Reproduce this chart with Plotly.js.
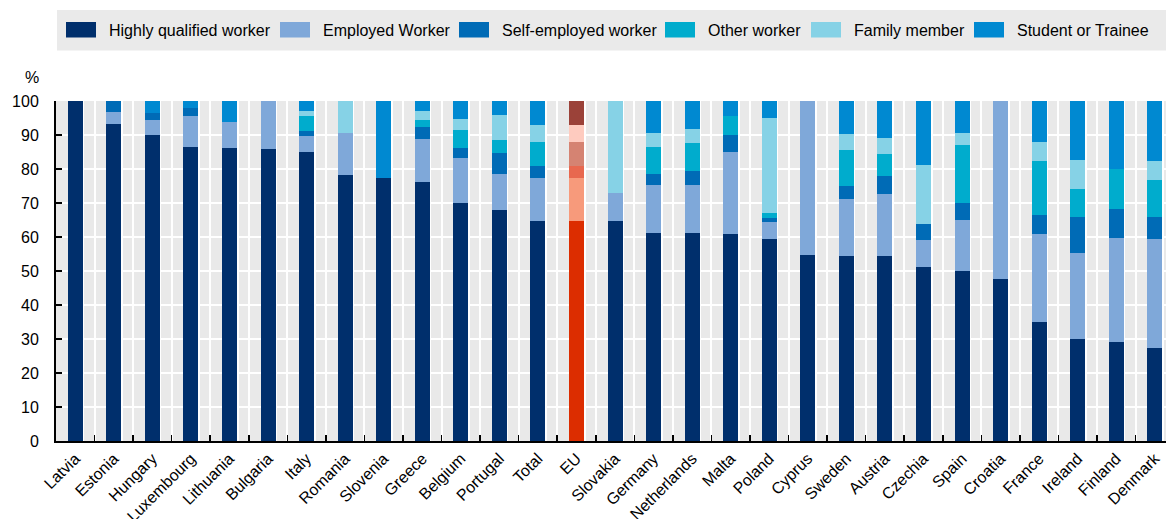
<!DOCTYPE html>
<html>
<head>
<meta charset="utf-8">
<script src="https://cdn.plot.ly/plotly-3.0.1.min.js"></script>
<style>
html,body{margin:0;padding:0;background:#fff;}
#chart{width:1166px;height:519px;}
</style>
</head>
<body>
<div id="chart"></div>
<script>
// ---- data ----
var categories = ["Latvia","Estonia","Hungary","Luxembourg","Lithuania","Bulgaria","Italy","Romania","Slovenia","Greece","Belgium","Portugal","Total","EU","Slovakia","Germany","Netherlands","Malta","Poland","Cyprus","Sweden","Austria","Czechia","Spain","Croatia","France","Ireland","Finland","Denmark"];
var seriesNames = ["Highly qualified worker","Employed Worker","Self-employed worker","Other worker","Family member","Student or Trainee"];
var highlyQualified = [100,93.3,90.1,86.6,86.2,86.0,84.9,78.3,77.5,76.2,70.1,67.8,64.7,64.7,64.7,61.3,61.3,60.9,59.3,54.6,54.5,54.3,51.2,50.0,47.7,35.0,30.0,29.1,27.4];
var employedWorker = [0,3.6,4.4,9.1,7.7,14.0,4.7,12.4,0,12.7,13.2,10.6,12.7,12.7,8.2,13.9,13.9,24.0,5.1,45.4,16.7,18.4,7.9,15.0,52.3,25.8,25.4,30.5,31.9];
var selfEmployed = [0,3.1,2.1,2.1,0,0,1.7,0,0,3.4,2.9,6.3,3.5,3.5,0,3.2,4.1,5.0,1.3,0,3.9,5.2,4.7,5.1,0,5.8,10.5,8.5,6.5];
var otherWorker = [0,0,0,0,0,0,4.2,0,0,2.2,5.3,3.9,7.0,7.0,0,8.1,8.4,5.8,1.4,0,10.6,6.6,0,17.0,0,15.9,8.2,12.0,11.0];
var familyMember = [0,0,0,0,0,0,1.7,9.3,0,2.7,3.3,7.3,5.1,5.1,27.1,4.1,4.1,0,27.8,0,4.7,4.6,17.3,3.6,0,5.4,8.5,0,5.7];
var studentTrainee = [0,0,3.4,2.2,6.1,0,2.8,0,22.5,2.8,5.2,4.1,7.0,7.0,0,9.4,8.2,4.3,5.1,0,9.6,10.9,18.9,9.3,0,12.1,17.4,19.9,17.5];
var yTickVals = [0,10,20,30,40,50,60,70,80,90,100];

// ---- styles ----
var seriesColors = ["#002F6C","#7FA8D9","#006BB6","#00ACCD","#86D2E6","#0089D1"];
var euColors = ["#DC2D00","#F79A7B","#E8684F","#D58372","#FECBBF","#9B4239"];
var highlightCategory = "EU";
var FONT = '"Liberation Sans", Arial, Helvetica, sans-serif';

var seriesValues = [highlyQualified, employedWorker, selfEmployed, otherWorker, familyMember, studentTrainee];

var W = 1166, H = 519;
var M = {l:56, r:0, t:101, b:78};
var plotW = W - M.l - M.r, plotH = H - M.t - M.b;
function px(x){ return (x - M.l) / plotW; }
function py(y){ return (H - M.b - y) / plotH; }

var xMax = 28.29;

var traces = seriesValues.map(function(vals, k){
  return {
    type: 'bar',
    name: seriesNames[k],
    x: categories,
    y: vals,
    marker: {color: categories.map(function(c){ return c === highlightCategory ? euColors[k] : seriesColors[k]; })},
    showlegend: false,
    hovertemplate: '%{x}<br>' + seriesNames[k] + ': %{y}%<extra></extra>'
  };
});
// helper trace for secondary grid axis
traces.push({type:'scatter', x:[], y:[], xaxis:'x2', yaxis:'y', showlegend:false, hoverinfo:'skip'});

var idx = categories.map(function(c,i){ return i + 0.21; });

// ---- custom legend ----
var legendSwatchX = [66, 280, 459, 665, 811, 974];
var shapes = [{
  type:'rect', xref:'paper', yref:'paper', layer:'below',
  x0: px(57), x1: px(1166), y0: py(50.5), y1: py(10),
  fillcolor:'#EAEAEA', line:{width:0}
}];
var annotations = [];
seriesNames.forEach(function(n, k){
  var sx = legendSwatchX[k];
  shapes.push({type:'rect', xref:'paper', yref:'paper',
    x0: px(sx), x1: px(sx+30), y0: py(37.5), y1: py(22),
    fillcolor: seriesColors[k], line:{width:0}});
  annotations.push({xref:'paper', yref:'paper', x: px(sx+41), y: py(30), xanchor:'left', yanchor:'middle',
    text: n, showarrow:false, font:{family:FONT, size:16, color:'#000'}});
});
annotations.push({xref:'paper', yref:'paper', x: px(31.5), y: py(77), xanchor:'center', yanchor:'middle',
  text:'%', showarrow:false, font:{family:FONT, size:16, color:'#000'}});

var layout = {
  width: W, height: H,
  margin: M,
  barmode: 'stack',
  bargap: 0.61,
  paper_bgcolor: '#fff',
  plot_bgcolor: '#E9E9E9',
  font: {family: FONT, size: 16, color: '#000'},
  showlegend: false,
  xaxis: {
    type: 'category',
    range: [-0.5, xMax],
    tickson: 'boundaries',
    ticks: 'inside', ticklen: 6, tickwidth: 1.5, tickcolor: '#000',
    showgrid: true, gridcolor: '#fff', gridwidth: 2,
    showline: true, linecolor: '#000', linewidth: 2,
    tickangle: -45,
    tickfont: {family: FONT, size: 16, color: '#000'},
    fixedrange: true
  },
  xaxis2: {
    overlaying: 'x', anchor: 'y', type: 'linear',
    range: [-0.5, xMax],
    tickmode: 'array', tickvals: idx,
    showticklabels: false, ticks: '',
    showgrid: true, gridcolor: '#fff', gridwidth: 2,
    showline: false, zeroline: false, fixedrange: true
  },
  yaxis: {
    range: [0, 100],
    tickmode: 'array', tickvals: yTickVals,
    ticks: 'inside', ticklen: 6, tickwidth: 1.5, tickcolor: '#000',
    ticklabelstandoff: 12,
    showgrid: true, gridcolor: '#fff', gridwidth: 2,
    showline: true, linecolor: '#000', linewidth: 2,
    zeroline: false,
    tickfont: {family: FONT, size: 16, color: '#000'},
    fixedrange: true
  },
  shapes: shapes,
  annotations: annotations
};

Plotly.newPlot('chart', traces, layout, {displayModeBar: false, staticPlot: true});
</script>
</body>
</html>
